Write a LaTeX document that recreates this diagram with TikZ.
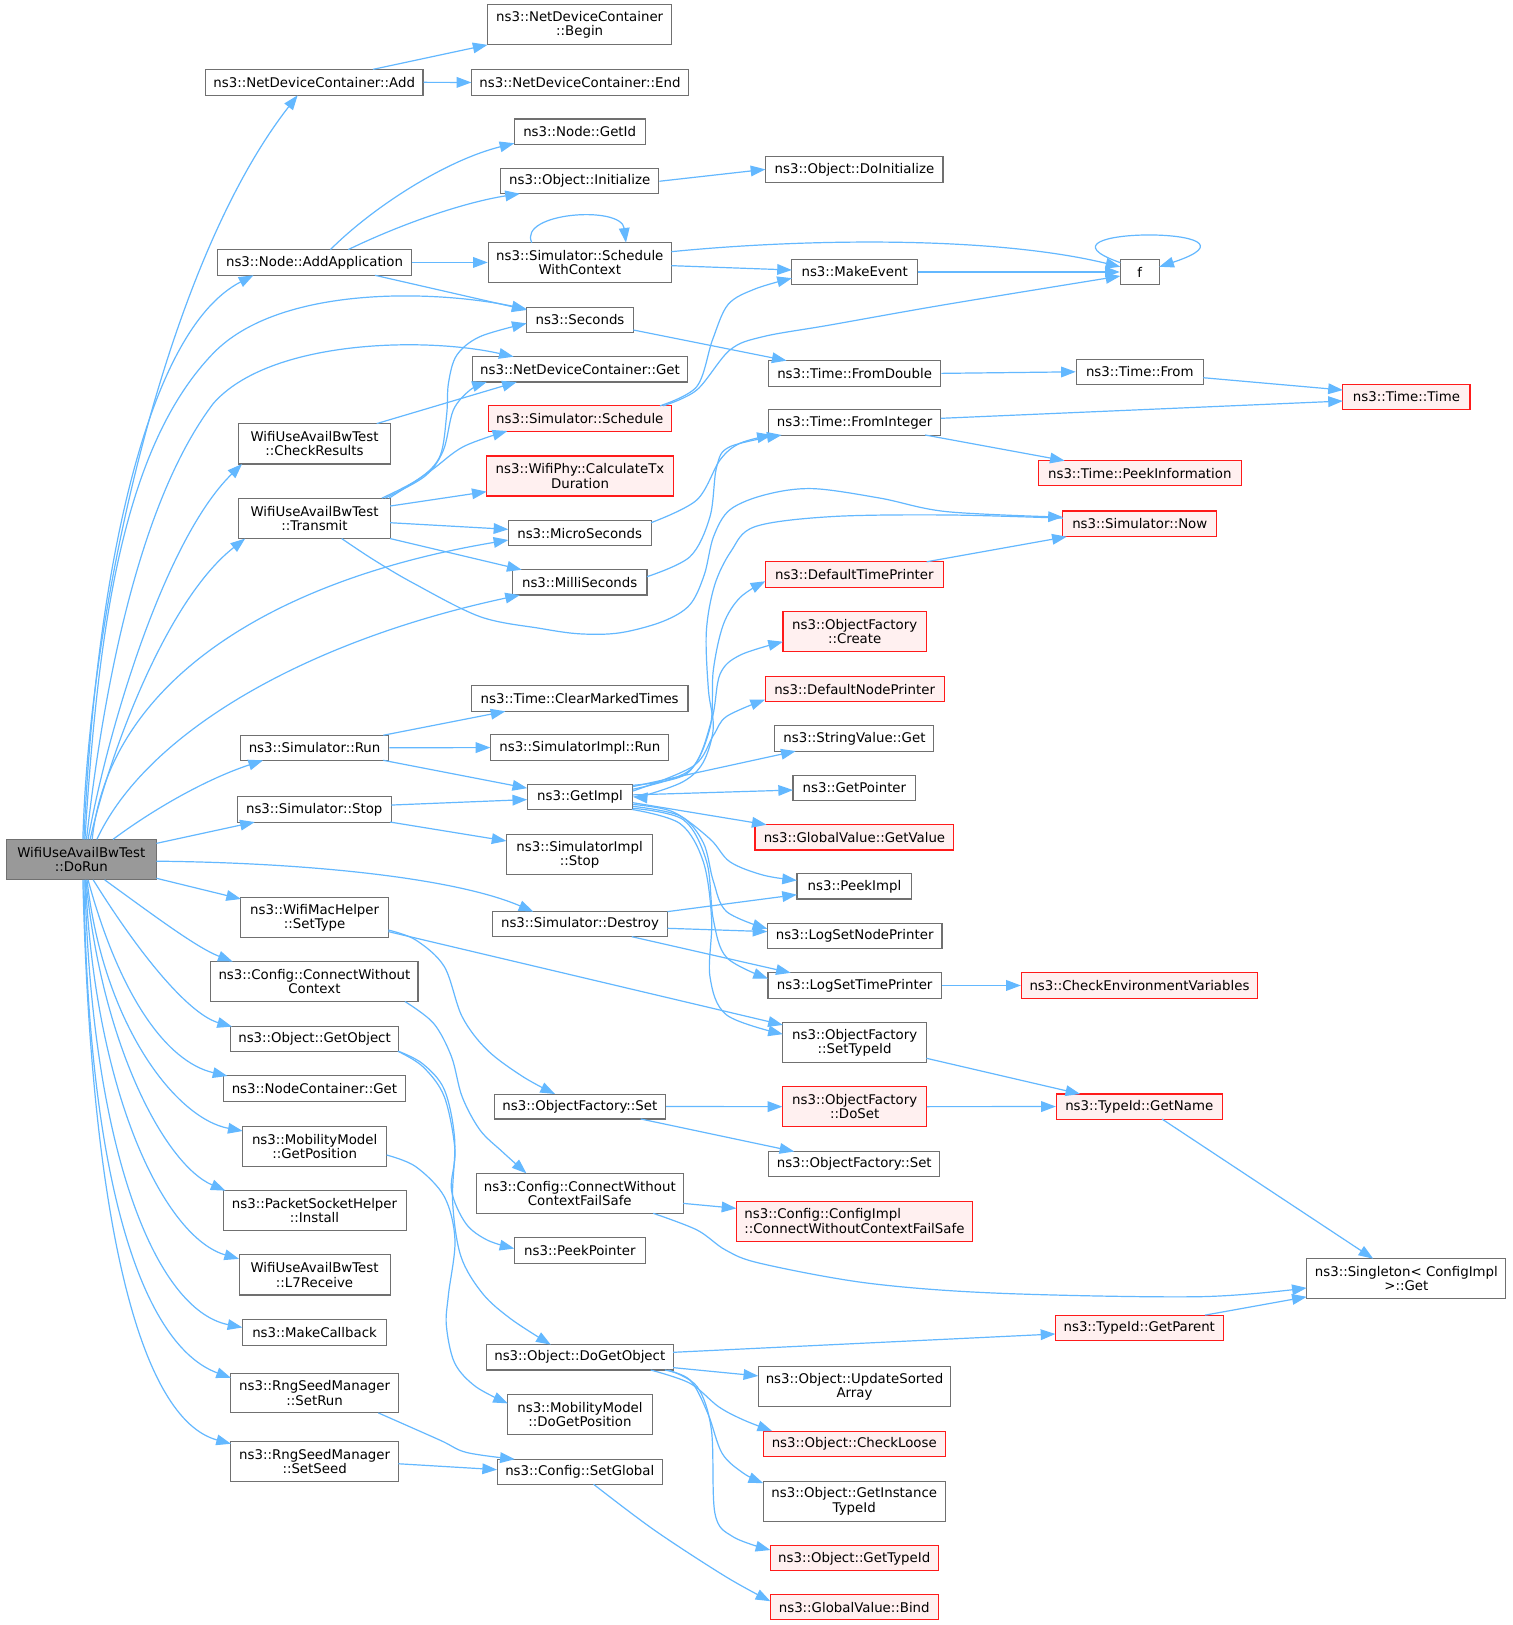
\documentclass[tikz,border=0pt]{standalone}
\usepackage{fontspec}
\setmainfont{DejaVu Sans}
\usetikzlibrary{arrows.meta,calc}
\definecolor{edgec}{HTML}{63B8FF}
\definecolor{nodeg}{HTML}{707070}
\definecolor{redfill}{HTML}{FFF0F0}
\definecolor{redline}{HTML}{FF1A1A}
\definecolor{rootfill}{HTML}{999999}
\newcommand{\dpx}{0.7768pt}
\newcommand{\bx}[7]{\node[#6, minimum width=#4*\dpx, minimum height=#5*\dpx] (#1) at (#2,#3) {#7};}
\begin{document}
\begin{tikzpicture}[x=0.7768pt,y=-0.7768pt,
  nb/.style={draw=nodeg, fill=white, line width=0.8pt, inner sep=0pt, align=center, text=black, font=\fontsize{10}{10.8}\selectfont},
  rb/.style={nb, draw=redline, fill=redfill},
  gb/.style={nb, fill=rootfill},
  edge/.style={draw=edgec, line width=0.9pt, -{Triangle[length=11pt,width=8pt]}},
  sm/.style={smooth, tension=0.55}]
\path[use as bounding box, fill=white] (0,0) rectangle (1460,1569);

\bx{ndcbegin}{559.7}{24}{178}{38.6}{nb}{ns3::NetDeviceContainer\\::Begin}
\bx{ndcadd}{303.4}{79.5}{210}{25}{nb}{ns3::NetDeviceContainer::Add}
\bx{ndcend}{560}{79.6}{208.7}{24.7}{nb}{ns3::NetDeviceContainer::End}
\bx{nodegetid}{559.7}{127.3}{126.2}{24.8}{nb}{ns3::Node::GetId}
\bx{objinit}{559.7}{175}{153}{24.1}{nb}{ns3::Object::Initialize}
\bx{doinit}{825}{163.5}{171}{25}{nb}{ns3::Object::DoInitialize}
\bx{schedwc}{559.8}{253.4}{176.7}{38.3}{nb}{ns3::Simulator::Schedule\\WithContext}
\bx{addapp}{303.7}{253.4}{186.6}{24.8}{nb}{ns3::Node::AddApplication}
\bx{makeevent}{825.2}{262.6}{121.3}{24.5}{nb}{ns3::MakeEvent}
\bx{ff}{1100.5}{262.6}{37.6}{24.5}{nb}{f}
\bx{seconds}{560}{308.8}{103}{24.2}{nb}{ns3::Seconds}
\bx{ndcget}{560}{356.6}{207}{24.4}{nb}{ns3::NetDeviceContainer::Get}
\bx{fromdouble}{825.2}{360.5}{166.3}{24.5}{nb}{ns3::Time::FromDouble}
\bx{timefrom}{1100.5}{359}{122.6}{24.4}{nb}{ns3::Time::From}
\bx{timetime}{1358}{383.3}{122.7}{25}{rb}{ns3::Time::Time}
\bx{chkres}{303.7}{428.5}{146}{39}{nb}{WifiUseAvailBwTest\\::CheckResults}
\bx{sched}{559.8}{404}{176.7}{24.4}{rb}{ns3::Simulator::Schedule}
\bx{frominteger}{825.2}{407.8}{166.3}{24.5}{nb}{ns3::Time::FromInteger}
\bx{peekinfo}{1100.5}{456.9}{196}{24.2}{rb}{ns3::Time::PeekInformation}
\bx{transmit}{303.7}{500.5}{146}{39}{nb}{WifiUseAvailBwTest\\::Transmit}
\bx{calctx}{560}{459.6}{180.2}{38.6}{rb}{ns3::WifiPhy::CalculateTx\\Duration}
\bx{micro}{559.7}{514.8}{137.8}{24.2}{nb}{ns3::MicroSeconds}
\bx{now}{1100.5}{505.8}{148.7}{24.8}{rb}{ns3::Simulator::Now}
\bx{milli}{559.7}{562.3}{130}{24.4}{nb}{ns3::MilliSeconds}
\bx{deftime}{824.9}{554.8}{171.8}{24.8}{rb}{ns3::DefaultTimePrinter}
\bx{ofcreate}{825.2}{610}{138.4}{38.4}{rb}{ns3::ObjectFactory\\::Create}
\bx{defnode}{825.2}{665.5}{173}{24.4}{rb}{ns3::DefaultNodePrinter}
\bx{clearmarked}{559.7}{674.5}{209.2}{24.6}{nb}{ns3::Time::ClearMarkedTimes}
\bx{simrun}{303.7}{722}{143.3}{24.2}{nb}{ns3::Simulator::Run}
\bx{simimplrun}{559.8}{721.8}{171.6}{24.6}{nb}{ns3::SimulatorImpl::Run}
\bx{strval}{825}{713}{153.5}{24.4}{nb}{ns3::StringValue::Get}
\bx{getimpl}{560}{769.5}{102}{24}{nb}{ns3::GetImpl}
\bx{getptr}{825}{760.8}{118.7}{24.4}{nb}{ns3::GetPointer}
\bx{simstop}{303.4}{781.5}{148.8}{24.5}{nb}{ns3::Simulator::Stop}
\bx{gvget}{825}{808.5}{192}{24.4}{rb}{ns3::GlobalValue::GetValue}
\bx{root}{78.5}{830}{145}{39}{gb}{WifiUseAvailBwTest\\::DoRun}
\bx{simimplstop}{559.6}{825.2}{141.2}{38.4}{nb}{ns3::SimulatorImpl\\::Stop}
\bx{peekimpl}{825}{855.8}{111}{24.4}{nb}{ns3::PeekImpl}
\bx{macset}{303.8}{886}{142.3}{38.3}{nb}{ns3::WifiMacHelper\\::SetType}
\bx{destroy}{560}{892.3}{169}{24.2}{nb}{ns3::Simulator::Destroy}
\bx{lognode}{825.2}{903.8}{168.6}{24.4}{nb}{ns3::LogSetNodePrinter}
\bx{cwc}{303.6}{947.7}{200}{38.6}{nb}{ns3::Config::ConnectWithout\\Context}
\bx{logtime}{825.2}{951.5}{167.4}{24.3}{nb}{ns3::LogSetTimePrinter}
\bx{checkenv}{1100.2}{951.5}{228}{24.3}{rb}{ns3::CheckEnvironmentVariables}
\bx{getobj}{303.7}{1003.3}{162.6}{24.2}{nb}{ns3::Object::GetObject}
\bx{settypeid}{825.2}{1006.8}{138.6}{38.6}{nb}{ns3::ObjectFactory\\::SetTypeId}
\bx{ncget}{303.6}{1051}{175}{24.3}{nb}{ns3::NodeContainer::Get}
\bx{ofset}{559.9}{1068.4}{165.3}{24.1}{nb}{ns3::ObjectFactory::Set}
\bx{doset}{825.2}{1068.5}{138.6}{38.6}{rb}{ns3::ObjectFactory\\::DoSet}
\bx{typename}{1100}{1068.4}{160}{24.2}{rb}{ns3::TypeId::GetName}
\bx{getpos}{303.8}{1107}{139}{38.4}{nb}{ns3::MobilityModel\\::GetPosition}
\bx{ofsettwo}{824.8}{1124}{164.8}{24.4}{nb}{ns3::ObjectFactory::Set}
\bx{psinst}{303.7}{1169}{176.7}{38.7}{nb}{ns3::PacketSocketHelper\\::Install}
\bx{cwcfs}{559.8}{1152.2}{199.7}{38.6}{nb}{ns3::Config::ConnectWithout\\ContextFailSafe}
\bx{configimpl}{825}{1179}{228}{38.6}{rb,align=left}{ns3::Config::ConfigImpl\\::ConnectWithoutContextFailSafe}
\bx{peekptr}{559.9}{1207.5}{126.5}{24.5}{nb}{ns3::PeekPointer}
\bx{lseven}{303.7}{1231}{145.8}{38.7}{nb}{WifiUseAvailBwTest\\::L7Receive}
\bx{singleton}{1357.9}{1234.6}{192.3}{38.7}{nb}{ns3::Singleton< ConfigImpl\\>::Get}
\bx{getparent}{1100}{1282}{162}{24.4}{rb}{ns3::TypeId::GetParent}
\bx{mkcb}{303.7}{1286.5}{139.3}{24.5}{nb}{ns3::MakeCallback}
\bx{dogetobj}{559.8}{1310.5}{180.4}{24.5}{nb}{ns3::Object::DoGetObject}
\bx{updsort}{825.1}{1338.9}{186}{38.6}{nb}{ns3::Object::UpdateSorted\\Array}
\bx{setrun}{303.8}{1345}{161.6}{38.4}{nb}{ns3::RngSeedManager\\::SetRun}
\bx{dogetpos}{560}{1365.9}{139.3}{38.6}{nb}{ns3::MobilityModel\\::DoGetPosition}
\bx{checkloose}{824.8}{1394}{175.9}{24.5}{rb}{ns3::Object::CheckLoose}
\bx{setseed}{303.8}{1411}{161.6}{38.4}{nb}{ns3::RngSeedManager\\::SetSeed}
\bx{setglobal}{559.8}{1421}{159.7}{24.2}{nb}{ns3::Config::SetGlobal}
\bx{getinst}{824.8}{1449.4}{175.9}{38.4}{nb}{ns3::Object::GetInstance\\TypeId}
\bx{gettypeid}{824.8}{1504.6}{162}{24.4}{rb}{ns3::Object::GetTypeId}
\bx{bind}{824.8}{1552}{162}{24.2}{rb}{ns3::GlobalValue::Bind}

% ---- edges from DoRun ----
\draw[edge] ($(root.center)+(1.5,-19.5)$) .. controls (86,590) and (160,255) .. ($(ndcadd.center)+(-16,12.5)$);
\draw[edge] ($(root.center)+(2.5,-19.5)$) .. controls (92,560) and (140,320) .. ($(addapp.center)+(-59,12.4)$);
\draw[edge] ($(root.center)+(3.5,-19.5)$) .. controls (95,600) and (120,430) .. (206,341) .. controls (270,275) and (420,280) .. ($(seconds.center)+(-51.5,-10.3)$);
\draw[edge] ($(root.center)+(5,-19.5)$) .. controls (105,620) and (145,470) .. (206,389.5) .. controls (260,328) and (410,325) .. ($(ndcget.center)+(-64,-12.2)$);
\draw[edge] ($(root.center)+(6.5,-19.5)$) .. controls (105,700) and (160,520) .. ($(chkres.center)+(-70,19.5)$);
\draw[edge] ($(root.center)+(8.5,-19.5)$) .. controls (105,730) and (160,580) .. ($(transmit.center)+(-67,19.5)$);
\draw[edge] ($(root.center)+(10.5,-19.5)$) .. controls (105,660) and (260,560) .. ($(micro.center)+(-68.9,6.6)$);
\draw[edge] ($(root.center)+(15,-19.5)$) .. controls (140,710) and (290,620) .. ($(milli.center)+(-57.7,12.2)$);
\draw[edge] ($(root.center)+(30.5,-19.5)$) .. controls (150,780) and (200,752) .. ($(simrun.center)+(-49.7,12.1)$);
\draw[edge] ($(root.center)+(72.5,-15.7)$) -- ($(simstop.center)+(-57.4,12.2)$);
\draw[edge] ($(root.center)+(72.5,1.5)$) .. controls (300,833) and (440,848) .. ($(destroy.center)+(-45,-12.1)$);
\draw[edge] ($(root.center)+(72.5,18)$) -- ($(macset.center)+(-71.1,-18)$);
\draw[edge] ($(root.center)+(22.5,19.5)$) .. controls (150,885) and (190,915) .. ($(cwc.center)+(-79,-19.3)$);
\draw[edge] ($(root.center)+(11.5,19.5)$) .. controls (140,930) and (185,980) .. ($(getobj.center)+(-79.7,-12.1)$);
\draw[edge] ($(root.center)+(6.5,19.5)$) .. controls (115,960) and (160,1025) .. ($(ncget.center)+(-84,-12.1)$);
\draw[edge] ($(root.center)+(5.5,19.5)$) .. controls (100,990) and (170,1080) .. ($(getpos.center)+(-69.5,-15)$);
\draw[edge] ($(root.center)+(4.5,19.5)$) .. controls (98,1010) and (160,1125) .. ($(psinst.center)+(-86,-19.4)$);
\draw[edge] ($(root.center)+(4,19.5)$) .. controls (92,1060) and (160,1195) .. ($(lseven.center)+(-72.9,-15.5)$);
\draw[edge] ($(root.center)+(3.5,19.5)$) .. controls (88,1110) and (150,1265) .. ($(mkcb.center)+(-69.7,-4.8)$);
\draw[edge] ($(root.center)+(2.5,19.5)$) .. controls (85,1150) and (140,1300) .. ($(setrun.center)+(-80.8,-14.6)$);
\draw[edge] ($(root.center)+(1.5,19.5)$) .. controls (88,1180) and (135,1370) .. ($(setseed.center)+(-80.8,-17)$);

% ---- upper part ----
\draw[edge] ($(ndcadd.center)+(56.6,-12.5)$) -- ($(ndcbegin.center)+(-89,19.3)$);
\draw[edge] (ndcadd.east) -- (ndcend.west);
\draw[edge] ($(addapp.center)+(15.3,-12.4)$) .. controls (360,200) and (430,155) .. ($(nodegetid.center)+(-63.1,11)$);
\draw[edge] ($(addapp.center)+(32.5,-12.4)$) .. controls (390,215) and (450,195) .. ($(objinit.center)+(-57.7,12)$);
\draw[edge] (addapp.east) -- (schedwc.west);
\draw[edge] ($(addapp.center)+(58.3,12.4)$) -- ($(seconds.center)+(-51.5,-9.5)$);
\draw[edge] (objinit.east) -- (doinit.west);
\draw[edge] ($(schedwc.center)+(-46.4,-19.1)$) .. controls (500,205) and (600,198) .. ($(schedwc.center)+(44.6,-19.1)$);
\draw[edge] ($(schedwc.center)+(88.4,-10.4)$) .. controls (780,230) and (960,228) .. ($(ff.center)+(-18.8,-5)$);
\draw[edge] ($(schedwc.center)+(88.4,3.1)$) -- ($(makeevent.center)+(-60.6,-1.9)$);
\draw[edge] (makeevent.east) -- (ff.west);
\draw[edge] ($(ff.center)+(-18.8,-9)$) .. controls (980,218) and (1240,218) .. ($(ff.center)+(18.8,-5)$);
\draw[edge] ($(seconds.center)+(51.5,9.8)$) -- ($(fromdouble.center)+(-65.7,-12.3)$);
\draw[edge] (fromdouble.east) -- (timefrom.west);
\draw[edge] ($(timefrom.center)+(61.3,5.7)$) -- ($(timetime.center)+(-61.4,-6.7)$);
\draw[edge] ($(frominteger.center)+(83.2,-3.9)$) -- ($(timetime.center)+(-61.4,3.9)$);
\draw[edge] ($(frominteger.center)+(68,12.2)$) -- ($(peekinfo.center)+(-72.5,-12.1)$);
\draw[edge] plot[sm] coordinates {($(sched.center)+(77.5,-12.2)$) (672.7,373.3) (688,328) (703,294) (729,279) ($(makeevent.center)+(-60.6,6)$)};
\draw[edge] plot[sm] coordinates {($(sched.center)+(80.6,-12.2)$) (672.7,376.6) (704.8,337.9) (737,325) (801.4,313.8) (913.4,294) ($(ff.center)+(-18.8,3.9)$)};
\draw[edge] ($(chkres.center)+(60,-19.5)$) -- ($(ndcget.center)+(-61,12.2)$);
\draw[edge] plot[sm] coordinates {($(transmit.center)+(65,-19.5)$) (405,462) (425,440) (431.3,400) (433,370) (441,343) (463.5,325) ($(seconds.center)+(-51.5,3.4)$)};
\draw[edge] plot[sm] coordinates {($(transmit.center)+(68,-19.5)$) (410,460) (428,435) (437.7,396) (453.8,376.6) ($(ndcget.center)+(-90,12.2)$)};
\draw[edge] plot[sm] coordinates {($(transmit.center)+(72,-19.5)$) (415.2,455) (447.3,431.3) ($(sched.center)+(-70,12.2)$)};
\draw[edge] ($(transmit.center)+(73,-11.9)$) -- ($(calctx.center)+(-90.1,15.1)$);
\draw[edge] ($(transmit.center)+(73,4.2)$) -- ($(micro.center)+(-68.9,-3.7)$);
\draw[edge] ($(transmit.center)+(73,19.5)$) -- ($(milli.center)+(-56,-12.2)$);
\draw[edge] plot[sm] coordinates {($(transmit.center)+(26.2,19.5)$) (360,540) (399,563) (463.5,595.4) (521.4,606.7) (560,612) (598.6,611) (640,600) (666,584) (680,555) (689,518) (705,492) (740,477.4) (785,471.8) (850,481) (914,494) ($(now.center)+(-74.3,-6.5)$)};
\draw[edge] plot[sm] coordinates {($(now.center)+(-74.3,-5.5)$) (913.5,497.2) (802.7,498.8) (729,508.5) (706,532) (690,565) (682,610) (684,666) (688.7,703) (679,736) (660,754.5) (624.4,767.5) ($(getimpl.center)+(51,-0.2)$)};
\draw[edge] ($(deftime.center)+(69.8,-12.4)$) -- ($(now.center)+(-70.5,12.4)$);
\draw[edge] plot[sm] coordinates {($(micro.center)+(68.9,-10.1)$) (672.7,482.8) (695.2,444.1) (714.5,428) ($(frominteger.center)+(-80,12.2)$)};
\draw[edge] plot[sm] coordinates {($(milli.center)+(65,-5.5)$) (666.2,537.5) (685.5,498.9) (692,450.6) (704.8,431.3) ($(frominteger.center)+(-70.5,12.2)$)};

% ---- GetImpl fan ----
\draw[edge] plot[sm] coordinates {($(getimpl.center)+(51,-11.3)$) (663,747) (685.5,702.8) (688.7,647.4) (698.4,603) (714.5,577) ($(deftime.center)+(-85.9,6.4)$)};
\draw[edge] plot[sm] coordinates {($(getimpl.center)+(51,-7.5)$) (666.2,743.4) (687.1,695.4) (695.2,651) (714.5,632.6) ($(ofcreate.center)+(-69.2,9.6)$)};
\draw[edge] plot[sm] coordinates {($(getimpl.center)+(51,-5.7)$) (669.4,739.7) (688.7,710.2) (701.6,691.7) ($(defnode.center)+(-86.5,10)$)};
\draw[edge] ($(getimpl.center)+(51,-10)$) -- ($(strval.center)+(-56.7,12.2)$);
\draw[edge] ($(getimpl.center)+(51,-2)$) -- ($(getptr.center)+(-59.3,2)$);
\draw[edge] ($(getimpl.center)+(51,5.5)$) -- ($(gvget.center)+(-84.8,-12.2)$);
\draw[edge] plot[sm] coordinates {($(getimpl.center)+(51,7.2)$) (650.1,784) (685.5,810) (704.8,832.1) (737,845) ($(peekimpl.center)+(-55.5,-5.8)$)};
\draw[edge] plot[sm] coordinates {($(getimpl.center)+(51,9)$) (656.6,787.8) (679.1,813.7) (688.7,850.6) (701.6,880.2) ($(lognode.center)+(-84.3,-7)$)};
\draw[edge] plot[sm] coordinates {($(getimpl.center)+(51,10.9)$) (659.8,791.5) (682.3,832.1) (688.7,887.6) (701.6,924.5) ($(logtime.center)+(-83.7,-6.7)$)};
\draw[edge] plot[sm] coordinates {($(getimpl.center)+(50,12)$) (656.6,795.2) (679.1,832.1) (687.1,887.6) (685.5,943) (701.6,980) ($(settypeid.center)+(-69.3,-8.3)$)};
\draw[edge] ($(simrun.center)+(66.4,-12.1)$) -- ($(clearmarked.center)+(-71.7,12.3)$);
\draw[edge] (simrun.east) -- (simimplrun.west);
\draw[edge] ($(simrun.center)+(66.4,12.1)$) -- ($(getimpl.center)+(-51,-8.5)$);
\draw[edge] ($(simstop.center)+(74.4,-4.2)$) -- ($(getimpl.center)+(-51,2.5)$);
\draw[edge] ($(simstop.center)+(73.2,12.2)$) -- ($(simimplstop.center)+(-70.6,-13.2)$);
\draw[edge] ($(destroy.center)+(84.5,-12.1)$) -- ($(peekimpl.center)+(-55.5,8)$);
\draw[edge] ($(destroy.center)+(84.5,4)$) -- ($(lognode.center)+(-84.3,-4.3)$);
\draw[edge] ($(destroy.center)+(50,12.1)$) -- ($(logtime.center)+(-61.7,-12.2)$);
\draw[edge] (logtime.east) -- (checkenv.west);

% ---- lower part ----
\draw[edge] ($(macset.center)+(71.2,13.5)$) -- ($(settypeid.center)+(-69.3,-17.2)$);
\draw[edge] plot[sm] coordinates {($(macset.center)+(71.2,12)$) (401.4,907.6) (429,933.3) (446.2,981.6) (470.4,1013.8) (504.8,1039.5) ($(ofset.center)+(-24,-12.1)$)};
\draw[edge] (ofset.east) -- (doset.west);
\draw[edge] ($(ofset.center)+(58.7,12)$) -- ($(ofsettwo.center)+(-57.9,-12.2)$);
\draw[edge] ($(settypeid.center)+(69.3,15)$) -- ($(typename.center)+(-57,-12.1)$);
\draw[edge] (doset.east) -- (typename.west);
\draw[edge] ($(typename.center)+(22,12.1)$) -- ($(singleton.center)+(-32,-19.3)$);
\draw[edge] plot[sm] coordinates {($(cwc.center)+(87.4,19.3)$) (418.6,988) (435.9,1020.2) (446.2,1058.9) (463.4,1091) (485,1112) ($(cwcfs.center)+(-51.5,-19.3)$)};
\draw[edge] ($(cwcfs.center)+(99.9,9.7)$) -- ($(configimpl.center)+(-114,-12.3)$);
\draw[edge] plot[sm] coordinates {($(cwcfs.center)+(70.9,19.3)$) (673,1187.6) (700.7,1207) (735,1220) (838.6,1239) (965.5,1248.7) (1158.6,1252) ($(singleton.center)+(-96.2,8.9)$)};
\draw[edge] plot[sm] coordinates {($(getobj.center)+(80.4,11.7)$) (408.3,1029.9) (429,1058.9) (439.3,1110.4) (435.9,1149) (449.7,1181.2) (470.4,1197.3) ($(peekptr.center)+(-63.3,-2)$)};
\draw[edge] plot[sm] coordinates {($(getobj.center)+(81,11.7)$) (408,1027) (429,1052) (439,1100) (437,1160) (445,1213) (466,1249) (494,1274) ($(dogetobj.center)+(-28,-12.2)$)};
\draw[edge] plot[sm] coordinates {($(getpos.center)+(69.5,8.2)$) (401.4,1126.4) (429,1155.4) (439.3,1197.2) (433,1250) (431,1280) (439,1316) (459.3,1338.8) ($(dogetpos.center)+(-69.6,-10.9)$)};
\draw[edge] ($(dogetobj.center)+(90.2,-4.8)$) -- ($(getparent.center)+(-81,6)$);
\draw[edge] ($(dogetobj.center)+(90.2,10)$) -- ($(updsort.center)+(-93,-10.4)$);
\draw[edge] plot[sm] coordinates {($(dogetobj.center)+(68.5,12.3)$) (666.2,1335.6) (693.8,1358.2) (717.9,1371) ($(checkloose.center)+(-79.3,-12.3)$)};
\draw[edge] plot[sm] coordinates {($(dogetobj.center)+(82.2,12.3)$) (666.2,1332.4) (683.4,1364.6) (697.2,1403.2) (717.9,1422.5) ($(getinst.center)+(-87.9,-17.4)$)};
\draw[edge] plot[sm] coordinates {($(dogetobj.center)+(85.7,12.3)$) (673.1,1338.8) (686.9,1380.7) (690.3,1461.2) (707.6,1483.7) ($(gettypeid.center)+(-81,-8)$)};
\draw[edge] ($(getparent.center)+(63.5,-12.2)$) -- ($(singleton.center)+(-96.2,17.5)$);
\draw[edge] plot[sm] coordinates {($(setrun.center)+(61.5,19.2)$) (424.8,1390.5) (450.5,1402.4) ($(setglobal.center)+(-62.8,-12.1)$)};
\draw[edge] ($(setseed.center)+(80.8,2.3)$) -- ($(setglobal.center)+(-79.9,-2)$);
\draw[edge] plot[sm] coordinates {($(setglobal.center)+(13.3,12.1)$) (631.7,1477.3) (700.7,1522.3) ($(bind.center)+(-81,-6)$)};
\end{tikzpicture}
\end{document}
